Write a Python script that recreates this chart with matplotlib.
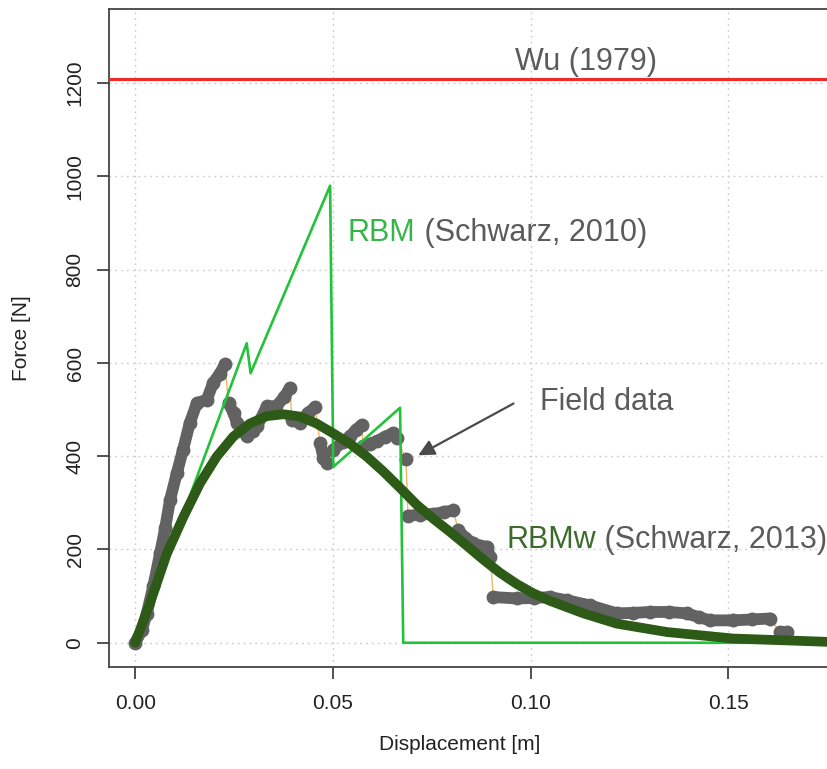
import matplotlib
matplotlib.use("Agg")
import matplotlib.pyplot as plt

plt.rcParams["font.family"] = ["Liberation Sans", "DejaVu Sans"]

# Field measurements: displacement [m] vs. pull-out force [N]
field_x = [0.0000, 0.0017, 0.0029, 0.0046, 0.0063, 0.0076, 0.0088, 0.0105, 0.0121, 0.0138,
           0.0156, 0.0181, 0.0197, 0.0214, 0.0227,
           0.0236, 0.0249, 0.0257, 0.0268, 0.0282, 0.0298, 0.0308, 0.0333, 0.0357, 0.0377, 0.0392,
           0.0396, 0.0416, 0.0436, 0.0455,
           0.0468, 0.0476, 0.0484,
           0.0501, 0.0525, 0.0544, 0.0559, 0.0573,
           0.0577, 0.0594, 0.0611, 0.0633, 0.0653, 0.0661,
           0.0685,
           0.0690, 0.0720, 0.0754, 0.0780, 0.0805,
           0.0817, 0.0835, 0.0855, 0.0872, 0.0889, 0.0898,
           0.0906, 0.0965, 0.1010, 0.1049, 0.1092, 0.1151, 0.1218, 0.1260, 0.1302, 0.1350,
           0.1395, 0.1425, 0.1454, 0.1513, 0.1560, 0.1606,
           0.1631, 0.1648]
field_y = [0, 27, 62, 122, 192, 247, 306, 363, 414, 471,
           514, 521, 557, 577, 597,
           514, 492, 472, 457, 443, 454, 464, 507, 507, 527, 547,
           478, 471, 492, 505,
           428, 397, 385,
           414, 430, 443, 457, 467,
           421, 427, 432, 442, 450, 439,
           394,
           272, 275, 276, 280, 284,
           241, 225, 213, 208, 206, 184,
           98, 95, 96, 98, 91, 80, 63, 64, 66, 66,
           63, 55, 48, 48, 50, 52,
           23, 23]
# number of consecutive samples in each continuous stretch of the record
field_run_lengths = [15, 11, 4, 3, 5, 6, 1, 5, 6, 16, 2]

# Root bundle model (RBM)
rbm_x = [0.0, 0.0282, 0.0292, 0.0493, 0.0501, 0.0670, 0.0678, 0.180]
rbm_y = [0, 642, 578, 980, 377, 504, 0, 0]

# Root bundle model with Weibull survival (RBMw)
rbmw_x = [0.0, 0.0037, 0.0080, 0.0122, 0.0164, 0.0206, 0.0248, 0.0290, 0.0333, 0.0375,
          0.0417, 0.0459, 0.0501, 0.0543, 0.0586, 0.0628, 0.0670, 0.0712, 0.0754, 0.0796,
          0.0839, 0.0881, 0.0923, 0.0965, 0.1007, 0.1049, 0.1134, 0.1218, 0.1345, 0.1513,
          0.1750]
rbmw_y = [0, 84, 191, 270, 342, 399, 442, 470, 486, 490,
          485, 470, 449, 427, 399, 367, 332, 296, 266, 238,
          208, 178, 150, 126, 106, 90, 63, 41, 23, 9,
          2]

# Wu (1979) constant estimate
wu_force = 1209

x_ticks = [0.00, 0.05, 0.10, 0.15]
x_tick_labels = ["0.00", "0.05", "0.10", "0.15"]
y_ticks = [0, 200, 400, 600, 800, 1000, 1200]
y_tick_labels = ["0", "200", "400", "600", "800", "1000", "1200"]

GRAY_TXT = "#5b5b5b"
FIELD_GRAY = "#626262"
RBM_GREEN = "#22c23a"
RBMW_GREEN = "#2d5a16"
WU_RED = "#ee2b24"

W, H = 827, 769
fig = plt.figure(figsize=(W / 100, H / 100), dpi=100)
ax = fig.add_axes([109 / W, (H - 667) / H, (W - 109) / W, (667 - 9) / H])

ax.set_xlim(-0.00663, 0.175)
ax.set_ylim(-52, 1359)

# grid
ax.set_axisbelow(True)
ax.grid(True, linestyle=(0, (1.2, 3)), color="#c9c9c9", linewidth=1.0)

# field data: thin connector through all samples, heavy dots along each stretch
ax.plot(field_x, field_y, color="#f2b566", lw=1.0, zorder=2)
start = 0
for n in field_run_lengths:
    xs = field_x[start:start + n]
    ys = field_y[start:start + n]
    ax.plot(xs, ys, color=FIELD_GRAY, lw=8.5, solid_capstyle="round",
            solid_joinstyle="round", marker="o", ms=10, mew=0, zorder=3)
    start += n

# models
ax.plot(rbm_x, rbm_y, color=RBM_GREEN, lw=1.9, zorder=4)
ax.plot(rbmw_x, rbmw_y, color=RBMW_GREEN, lw=7.0, solid_capstyle="round",
        solid_joinstyle="round", zorder=5)
ax.axhline(wu_force, color=WU_RED, lw=2.2, zorder=4)

# labels
fs = 22
ax.text(0.0961, 1228, "Wu (1979)", color=GRAY_TXT, fontsize=fs, va="baseline", ha="left")
t_rbm = ax.text(0.0538, 862, "RBM", color="#35b548", fontsize=fs, va="baseline", ha="left")
ax.annotate(" (Schwarz, 2010)", xy=(1, 0), xycoords=t_rbm, color=GRAY_TXT,
            fontsize=fs, va="bottom", ha="left")
ax.text(0.1024, 499, "Field data", color=GRAY_TXT, fontsize=fs, va="baseline", ha="left")
t_rbmw = ax.text(0.0938, 203, "RBMw", color="#3d6b2c", fontsize=fs, va="baseline", ha="left")
ax.annotate(" (Schwarz, 2013)", xy=(1, 0), xycoords=t_rbmw, color=GRAY_TXT,
            fontsize=fs, va="bottom", ha="left")
ax.annotate("", xy=(0.0716, 402), xytext=(0.0957, 513),
            arrowprops=dict(arrowstyle="-|>", color="#4a4a4a", lw=1.6,
                            mutation_scale=24, shrinkA=0, shrinkB=0), zorder=6)

# axes styling
for side in ("left", "bottom", "top"):
    ax.spines[side].set_color("#444444")
    ax.spines[side].set_linewidth(1.3)
ax.spines["right"].set_visible(False)

ax.set_xticks(x_ticks)
ax.set_xticklabels(x_tick_labels)
ax.set_yticks(y_ticks)
ax.set_yticklabels(y_tick_labels, rotation=90, va="center")
ax.tick_params(axis="both", direction="out", length=8.6, width=1.2, color="#333333",
               labelsize=15, labelcolor="#222222")
ax.tick_params(axis="x", pad=11)
ax.tick_params(axis="y", pad=9)

ax.set_xlabel("Displacement [m]", fontsize=15, color="#222222")
ax.set_ylabel("Force [N]", fontsize=15, color="#222222")
ax.xaxis.set_label_coords((460 - 109) / (W - 109), -(745 - 667) / (667 - 9))
ax.yaxis.set_label_coords(-(109 - 22) / (W - 109), 0.5)
ax.xaxis.label.set_va("center")
ax.yaxis.label.set_va("center")

fig.savefig("out.png", dpi=100)
